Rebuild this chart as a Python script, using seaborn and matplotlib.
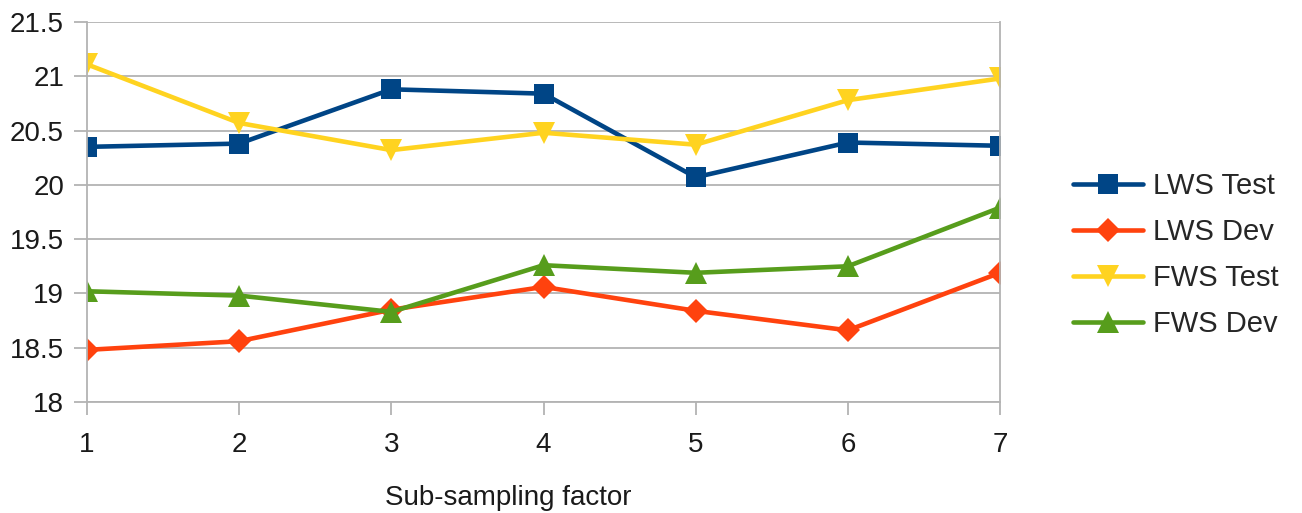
import matplotlib
matplotlib.use("Agg")
import matplotlib.pyplot as plt
import matplotlib.ticker as mticker
import pandas as pd
import seaborn as sns

# Sub-sampling factors on the x axis
factors = [1, 2, 3, 4, 5, 6, 7]

# Scores per series
lws_test = [20.35, 20.38, 20.88, 20.84, 20.07, 20.39, 20.36]
lws_dev = [18.48, 18.56, 18.85, 19.06, 18.84, 18.66, 19.19]
fws_test = [21.11, 20.57, 20.32, 20.48, 20.37, 20.78, 20.98]
fws_dev = [19.02, 18.98, 18.83, 19.26, 19.19, 19.25, 19.79]

series_names = ["LWS Test", "LWS Dev", "FWS Test", "FWS Dev"]
series_values = [lws_test, lws_dev, fws_test, fws_dev]

y_ticks = [18, 18.5, 19, 19.5, 20, 20.5, 21, 21.5]
x_label = "Sub-sampling factor"

rows = []
for name, vals in zip(series_names, series_values):
    for f, v in zip(factors, vals):
        rows.append({"factor": f, "score": v, "series": name})
df = pd.DataFrame(rows)

palette = {"LWS Test": "#004586", "LWS Dev": "#ff420e",
           "FWS Test": "#ffd320", "FWS Dev": "#579d1c"}
markers = {"LWS Test": "s", "LWS Dev": "D",
           "FWS Test": "v", "FWS Dev": "^"}
sizes = {"LWS Test": 14.5, "LWS Dev": 12, "FWS Test": 16, "FWS Dev": 16}

sns.set_theme(style="white")
plt.rcParams["font.family"] = ["Liberation Sans", "DejaVu Sans"]

fig = plt.figure(figsize=(13.02, 5.13), dpi=100)
ax = fig.add_axes([87 / 1302, 1 - 402 / 513, 913 / 1302, 380 / 513])

for name in series_names:
    sub = df[df["series"] == name]
    sns.lineplot(data=sub, x="factor", y="score", ax=ax, color=palette[name],
                 marker=markers[name], markersize=sizes[name],
                 markeredgewidth=0, linewidth=3.3, label=name, sort=False)

grid_col = "#b3b3b3"
ax.set_xlim(1, 7)
ax.set_ylim(18, 21.5)
ax.set_xticks(factors)
ax.set_yticks(y_ticks)
ax.yaxis.set_major_formatter(mticker.FuncFormatter(lambda v, p: f"{v:g}"))
ax.grid(axis="y", color=grid_col, linewidth=1.3)
ax.grid(axis="x", visible=False)
ax.set_axisbelow(True)

for side in ["left", "right", "bottom"]:
    ax.spines[side].set_visible(True)
    ax.spines[side].set_color(grid_col)
    ax.spines[side].set_linewidth(1.3)
ax.spines["top"].set_visible(False)

ax.tick_params(axis="both", which="major", direction="out", length=9.5,
               width=1.3, color=grid_col, labelsize=20, labelcolor="#1a1a1a")
ax.tick_params(axis="y", pad=7, left=True)
ax.tick_params(axis="x", pad=12, bottom=True)

ax.set_xlabel(x_label, fontsize=20, color="#1a1a1a", va="bottom")
ax.set_ylabel("")
ax.xaxis.set_label_coords((508 - 87) / 913, -(511 - 402) / 380)

handles, labels = ax.get_legend_handles_labels()
if ax.legend_:
    ax.legend_.remove()
fig.legend(handles, labels, loc="center left",
           bbox_to_anchor=(1073 / 1302, 1 - 255 / 513), frameon=False,
           fontsize=21, handlelength=2.4, handletextpad=0.35,
           labelspacing=0.62, borderpad=0, borderaxespad=0)

fig.savefig("out.png", dpi=100)
